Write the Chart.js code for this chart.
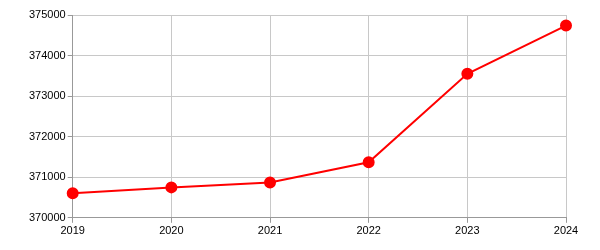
<!DOCTYPE html>
<html>
<head>
<meta charset="utf-8">
<script src="https://cdn.jsdelivr.net/npm/chart.js@4/dist/chart.umd.min.js"></script>
<style>
  body { margin: 0; background: #fff; }
</style>
</head>
<body>
<canvas id="grafico" width="600" height="250"></canvas>
<script>
const anos = ['2019', '2020', '2021', '2022', '2023', '2024'];
const valores = [370605, 370750, 370870, 371370, 373550, 374740];

const ctx = document.getElementById('grafico').getContext('2d');

new Chart(ctx, {
    type: 'line',
    data: {
        labels: anos,
        datasets: [{
            data: valores,
            borderColor: '#ff0000',
            backgroundColor: '#ff0000',
            borderWidth: 2,
            pointRadius: 5,
            pointHoverRadius: 5,
            tension: 0
        }]
    },
    options: {
        responsive: false,
        animation: false,
        layout: {
            padding: { top: 15, right: 34, left: 27, bottom: 10 }
        },
        plugins: {
            legend: { display: false },
            tooltip: { enabled: false }
        },
        scales: {
            x: {
                offset: false,
                grid: { color: '#c8c8c8', tickLength: 5, tickColor: '#999' },
                border: { color: '#999' },
                ticks: { color: '#000', font: { family: 'Liberation Sans', size: 11 }, padding: 2, maxRotation: 0 }
            },
            y: {
                min: 370000,
                max: 375000,
                grid: { color: '#c8c8c8', tickLength: 5, tickColor: '#999' },
                border: { color: '#999' },
                ticks: {
                    stepSize: 1000,
                    color: '#000',
                    font: { family: 'Liberation Sans', size: 11 },
                    padding: 2,
                    callback: (v) => String(v)
                }
            }
        }
    }
});
</script>
</body>
</html>
